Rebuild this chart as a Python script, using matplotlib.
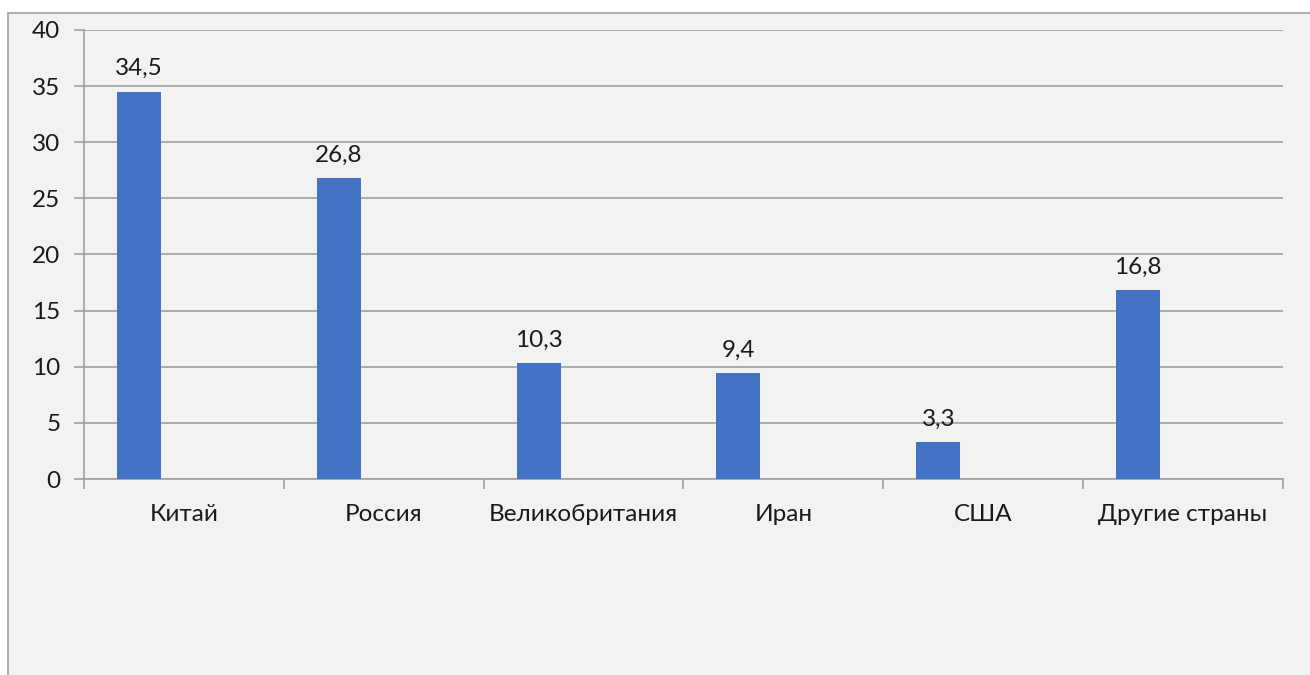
import numpy as np
import matplotlib.pyplot as plt
from matplotlib.patches import Rectangle

countries = ["Китай", "Россия", "Великобритания", "Иран", "США", "Другие страны"]
shares = [34.5, 26.8, 10.3, 9.4, 3.3, 16.8]
labels = ["34,5", "26,8", "10,3", "9,4", "3,3", "16,8"]

plt.rcParams['font.family'] = ['Lato', 'DejaVu Sans']

W, H = 1310, 675
fig = plt.figure(figsize=(W / 100, H / 100), dpi=100)
fig.patch.set_facecolor("white")
# gray chart area with thin border (top and left edges visible)
fig.patches.append(Rectangle((8 / W, -0.01), 1.02, (675 - 13) / H + 0.01,
                             transform=fig.transFigure, facecolor="#F2F2F2",
                             edgecolor="#A0A0A0", linewidth=1.2, zorder=-10))

ax = fig.add_axes([84 / W, (H - 479) / H, (1283 - 84) / W, (479 - 30) / H])
ax.set_facecolor("none")

x = np.arange(len(countries))
bw = 0.22
fs = 17.5
ax.bar(x - 0.225, shares, width=bw, color="#4472C4", zorder=3)
for xi, v, t in zip(x, shares, labels):
    ax.annotate(t, (xi - 0.225, v), xytext=(0, 9), textcoords="offset points",
                ha="center", va="bottom", fontsize=fs, color="#1a1a1a")

ax.set_xlim(-0.5, len(countries) - 0.5)
ax.set_ylim(0, 40)
ax.set_yticks(range(0, 41, 5))
ax.set_xticks(x)
ax.set_xticklabels(countries, fontsize=fs, color="#1a1a1a")
ax.set_xticks(np.arange(-0.5, len(countries), 1), minor=True)
ax.tick_params(axis="x", which="major", length=0, pad=18)
ax.tick_params(axis="x", which="minor", length=7, color="#A0A0A0", width=1.2)
ax.tick_params(axis="y", length=7, color="#A0A0A0", width=1.2, labelsize=fs,
               labelcolor="#1a1a1a", pad=10)
ax.grid(axis="y", color="#A0A0A0", linewidth=1.2, zorder=0)
for s in ["top", "right"]:
    ax.spines[s].set_visible(False)
for s in ["left", "bottom"]:
    ax.spines[s].set_color("#A0A0A0")
    ax.spines[s].set_linewidth(1.2)

fig.savefig("out.png", dpi=100)
